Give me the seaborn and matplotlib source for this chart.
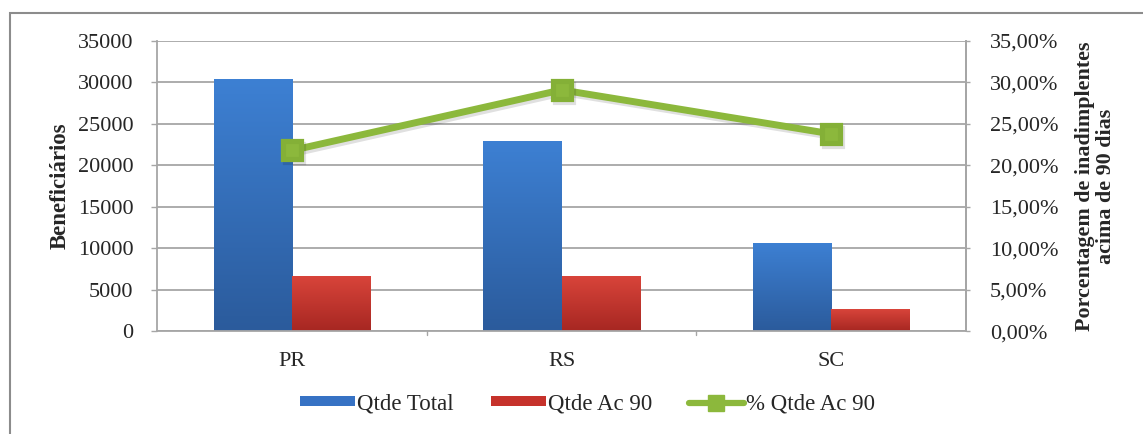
import numpy as np
import pandas as pd
import matplotlib
matplotlib.use("Agg")
import matplotlib.pyplot as plt
import matplotlib.patheffects as pe
from matplotlib.colors import LinearSegmentedColormap
from matplotlib.lines import Line2D
from matplotlib.patches import Patch, Rectangle
import seaborn as sns

# dados
estados = ["PR", "RS", "SC"]
qtde_total = [30400, 22970, 10650]
qtde_ac90 = [6630, 6630, 2650]
pct_ac90 = [21.8, 29.1, 23.8]

serie_total = "Qtde Total"
serie_ac90 = "Qtde Ac 90"
serie_pct = "% Qtde Ac 90"

AZUL = "#3672c4"
VERMELHO = "#c6322b"
VERDE = "#8cb83c"
CINZA = "#a6a6a6"

sns.set_style("white")
plt.rcParams["font.family"] = ["Liberation Serif", "DejaVu Serif"]
plt.rcParams["font.size"] = 16

df = pd.DataFrame({
    "Estado": estados * 2,
    "Serie": [serie_total] * 3 + [serie_ac90] * 3,
    "Valor": qtde_total + qtde_ac90,
})
df_pct = pd.DataFrame({"Estado": estados, "Pct": pct_ac90})

fig = plt.figure(figsize=(11.43, 4.34), dpi=100)
ax = fig.add_axes([0.1374, 0.237, 0.7078, 0.6685])

sns.barplot(data=df, x="Estado", y="Valor", hue="Serie", order=estados,
            hue_order=[serie_total, serie_ac90],
            palette=[AZUL, VERMELHO], width=0.58, gap=0, ax=ax,
            legend=False, saturation=1, edgecolor="none", zorder=2)

# degradê nas barras (estilo Excel)
grad = {
    AZUL: LinearSegmentedColormap.from_list("az", ["#2b5b9c", "#3d80d3"]),
    VERMELHO: LinearSegmentedColormap.from_list("vm", ["#a72722", "#d8443a"]),
}
for p in list(ax.patches):
    fc = matplotlib.colors.to_hex(p.get_facecolor())
    cmap = grad[AZUL] if fc.lower() == AZUL else grad[VERMELHO]
    x0, y0 = p.get_x(), p.get_y()
    w, h = p.get_width(), p.get_height()
    img = ax.imshow(np.linspace(0, 1, 100).reshape(-1, 1), cmap=cmap,
                    extent=[x0, x0 + w, y0, y0 + h], origin="lower",
                    aspect="auto", zorder=2.1)
    img.set_clip_path(p)

ax.set_xlim(-0.5, 2.5)
ax.set_ylim(0, 35000)
ax.set_yticks(np.arange(0, 35001, 5000))
ax.yaxis.grid(True, color=CINZA, linewidth=1.3)
ax.set_axisbelow(True)
ax.spines["top"].set_visible(False)
for s in ["left", "bottom", "right"]:
    ax.spines[s].set_color(CINZA)
    ax.spines[s].set_linewidth(1.3)
ax.tick_params(axis="y", length=4, width=1, color=CINZA, pad=13, labelsize=16)
ax.tick_params(axis="x", length=0, pad=15, labelsize=16)
ax.set_xticks(range(3))
ax.set_xticklabels(estados)
# marcas entre categorias
for xb in [0.5, 1.5]:
    ax.plot([xb, xb], [0, -450], color=CINZA, lw=1, clip_on=False)
ax.set_xlabel("")
ax.set_ylabel("Beneficiários", fontweight="bold", fontsize=16.5, labelpad=5)

ax2 = ax.twinx()
sns.pointplot(data=df_pct, x="Estado", y="Pct", order=estados, color=VERDE,
              markers="s", markersize=13, linewidth=5, ax=ax2, zorder=5)
for ln in ax2.lines:
    ln.set_path_effects([pe.SimpleLineShadow(offset=(1.5, -2), alpha=0.12),
                         pe.Normal()])
    ln.set_markeredgecolor("#84b037")
ax2.set_xlim(-0.5, 2.5)
ax2.set_ylim(0, 35)
ax2.set_yticks(np.arange(0, 35.01, 5))
ax2.set_yticklabels([f"{v:.2f}%".replace(".", ",") for v in np.arange(0, 35.01, 5)])
ax2.tick_params(axis="y", length=3, width=1, color=CINZA, pad=14, labelsize=16)
for s in ["top", "left", "bottom"]:
    ax2.spines[s].set_visible(False)
ax2.spines["right"].set_color(CINZA)
ax2.spines["right"].set_linewidth(1.3)
ax2.set_xlabel("")
ax2.set_ylabel("Porcentagem de inadimplentes\nacima de 90 dias",
               fontweight="bold", fontsize=15.8, labelpad=12, linespacing=1.1)

handles = [
    Patch(facecolor=AZUL, edgecolor="none"),
    Patch(facecolor=VERMELHO, edgecolor="none"),
    Line2D([0], [0], color=VERDE, lw=4.5, marker="s", markersize=11),
]
fig.legend(handles, [serie_total, serie_ac90, serie_pct], loc="center",
           bbox_to_anchor=(0.514, 0.069), ncol=3, frameon=False,
           fontsize=16.5, handlelength=2.4, handleheight=0.3,
           handletextpad=0.1, columnspacing=1.6)

# moldura externa
fig.patches.append(Rectangle((0.009, -0.05), 1.2, 1.02, transform=fig.transFigure,
                             fill=False, edgecolor="#8c8c8c", linewidth=1.5))

fig.savefig("out.png", dpi=100)
